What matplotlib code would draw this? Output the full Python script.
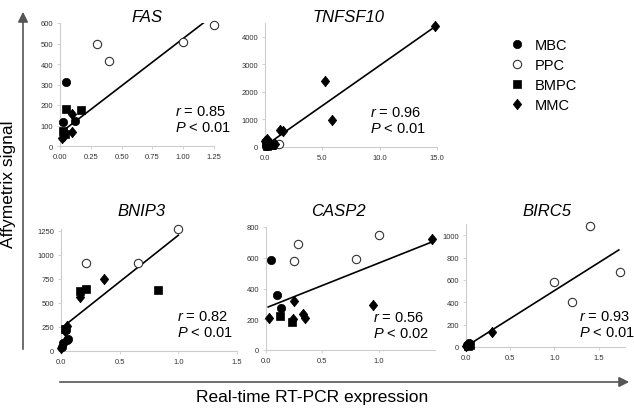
import matplotlib
matplotlib.use("Agg")
import matplotlib.pyplot as plt
from matplotlib.lines import Line2D

plt.rcParams["font.family"] = ["Liberation Sans", "DejaVu Sans"]
plt.rcParams["mathtext.fontset"] = "custom"
plt.rcParams["mathtext.it"] = "Liberation Sans:italic"
plt.rcParams["mathtext.rm"] = "Liberation Sans"

# point values: x = RT-PCR, y = Affymetrix, cell type
fas_x = [0.05, 0.025, 0.12, 0.3, 0.4, 1.0, 1.25, 0.05, 0.17, 0.025, 0.04, 0.1, 0.1, 0.015, 0.03]
fas_y = [310, 117, 122, 500, 415, 505, 590, 180, 176, 73, 58, 156, 68, 39, 50]
fas_t = ["MBC", "MBC", "MBC", "PPC", "PPC", "PPC", "PPC", "BMPC", "BMPC", "BMPC", "BMPC",
         "MMC", "MMC", "MMC", "MMC"]

tnf_x = [0.1, 0.8, 0.4, 1.2, 0.2, 0.5, 0.05, 14.8, 5.2, 5.8, 1.3, 1.6, 0.2, 0.45, 0.0, 0.9]
tnf_y = [40, 60, 100, 110, 30, 80, 150, 4380, 2380, 970, 600, 570, 290, 130, 200, 110]
tnf_t = ["MBC", "MBC", "MBC", "PPC", "BMPC", "BMPC", "BMPC", "MMC", "MMC", "MMC", "MMC",
         "MMC", "MMC", "MMC", "MMC", "MMC"]

bnip_x = [0.04, 0.05, 0.02, 0.01, 0.06, 0.21, 0.66, 1.0, 0.83, 0.21, 0.16, 0.03,
          0.37, 0.16, 0.05, 0.035, 0.0]
bnip_y = [220, 110, 80, 40, 120, 915, 920, 1265, 630, 645, 620, 230, 750, 565, 265, 210, 30]
bnip_t = ["MBC", "MBC", "MBC", "MBC", "MBC", "PPC", "PPC", "PPC", "BMPC", "BMPC", "BMPC",
          "BMPC", "MMC", "MMC", "MMC", "MMC", "MMC"]

casp_x = [0.04, 0.1, 0.13, 0.28, 0.25, 0.8, 1.0, 0.12, 0.23, 0.03, 0.25, 0.24, 0.33, 0.35,
          0.95, 1.47]
casp_y = [585, 355, 273, 690, 580, 590, 745, 222, 185, 210, 320, 200, 234, 208, 295, 722]
casp_t = ["MBC", "MBC", "MBC", "PPC", "PPC", "PPC", "PPC", "BMPC", "BMPC", "MMC", "MMC",
          "MMC", "MMC", "MMC", "MMC", "MMC"]

birc_x = [0.01, 0.03, 1.0, 1.2, 1.4, 1.74, 0.02, 0.04, 0.29, 0.0, 0.02]
birc_y = [20, 35, 580, 405, 1080, 675, 10, 15, 135, 5, 30]
birc_t = ["MBC", "MBC", "PPC", "PPC", "PPC", "PPC", "BMPC", "BMPC", "MMC", "MMC", "MMC"]

# trend line end points
fas_fit = ([0.02, 1.25], [72, 640])
tnf_fit = ([0.0, 14.8], [40, 4360])
bnip_fit = ([0.02, 1.0], [255, 1205])
casp_fit = ([0.02, 1.47], [280, 702])
birc_fit = ([0.0, 1.73], [5, 868])

genes = ["FAS", "TNFSF10", "BNIP3", "CASP2", "BIRC5"]
r_text = ["0.85", "0.96", "0.82", "0.56", "0.93"]
p_text = ["0.01", "0.01", "0.01", "0.02", "0.01"]
cell_types = ["MBC", "PPC", "BMPC", "MMC"]

DIAMOND = [(0, 1), (0.8, 0), (0, -1), (-0.8, 0), (0, 1)]
STYLE = {
    "MBC": dict(marker="o", ms=6.0, mfc="black", mec="black", mew=0.5),
    "PPC": dict(marker="o", ms=6.0, mfc="white", mec="#333333", mew=0.8),
    "BMPC": dict(marker="s", ms=5.8, mfc="black", mec="black", mew=0.5),
    "MMC": dict(marker=DIAMOND, ms=7.6, mfc="black", mec="black", mew=0.5),
}

W, H = 634, 410


def px_rect(left, right, top, bottom):
    return [left / W, 1 - bottom / H, (right - left) / W, (bottom - top) / H]


panels = [
    (fas_x, fas_y, fas_t, fas_fit, px_rect(60, 214, 24, 147), (0, 1.25), (0, 600),
     [0, 0.25, 0.5, 0.75, 1.0, 1.25], [0, 100, 200, 300, 400, 500, 600], "%.2f",
     (147, 18), (175, 112)),
    (tnf_x, tnf_y, tnf_t, tnf_fit, px_rect(265, 437, 24, 148), (0, 15), (0, 4500),
     [0, 5, 10, 15], [0, 1000, 2000, 3000, 4000], "%.1f",
     (348, 17), (370, 113)),
    (bnip_x, bnip_y, bnip_t, bnip_fit, px_rect(61, 237, 230, 352), (0, 1.5), (0, 1270),
     [0, 0.5, 1.0, 1.5], [0, 250, 500, 750, 1000, 1250], "%.1f",
     (142, 212), (177, 317)),
    (casp_x, casp_y, casp_t, casp_fit, px_rect(266, 435, 228, 351), (0, 1.5), (0, 800),
     [0, 0.5, 1.0], [0, 200, 400, 600, 800], "%.1f",
     (338, 212), (373, 318)),
    (birc_x, birc_y, birc_t, birc_fit, px_rect(466, 625, 225, 348), (0, 1.8), (0, 1100),
     [0, 0.5, 1.0, 1.5], [0, 200, 400, 600, 800, 1000], "%.1f",
     (547, 212), (579, 317)),
]

fig = plt.figure(figsize=(W / 100, H / 100), dpi=100)

for i, (xs, ys, ts, fit, rect, xl, yl, xt, yt, fmt, tpos, rpos) in enumerate(panels):
    ax = fig.add_axes(rect)
    ax.plot(fit[0], fit[1], color="black", lw=1.2, zorder=2)
    for ct in cell_types:
        px = [x for x, t in zip(xs, ts) if t == ct]
        py = [y for y, t in zip(ys, ts) if t == ct]
        ax.plot(px, py, ls="none", zorder=3, clip_on=False, **STYLE[ct])
    ax.set_xlim(*xl)
    ax.set_ylim(*yl)
    ax.set_xticks(xt)
    ax.set_yticks(yt)
    ax.set_xticklabels([fmt % v for v in xt])
    ax.tick_params(labelsize=5.5, labelcolor="#333333", color="#cccccc",
                   length=2, width=0.6, pad=3)
    for s in ["top", "right"]:
        ax.spines[s].set_visible(False)
    for s in ["left", "bottom"]:
        ax.spines[s].set_color("#cccccc")
        ax.spines[s].set_linewidth(0.8)
    fig.text(tpos[0] / W, 1 - tpos[1] / H, genes[i], fontsize=12, style="italic",
             ha="center", va="center")
    fig.text(rpos[0] / W, 1 - rpos[1] / H, "$r$ = " + r_text[i], fontsize=10.5,
             ha="left", va="center")
    fig.text(rpos[0] / W, 1 - (rpos[1] + 16) / H, "$P$ < " + p_text[i], fontsize=10.5,
             ha="left", va="center")

# legend
handles = [Line2D([], [], ls="none", **STYLE[ct]) for ct in cell_types]
fig.legend(handles, cell_types, loc="upper left", bbox_to_anchor=(495 / W, 1 - 26 / H),
           frameon=False, fontsize=10.5, handletextpad=0.6, labelspacing=0.42,
           handlelength=1.2)

# big axis arrows
fig.add_artist(matplotlib.patches.FancyArrowPatch(
    (23 / W, 1 - 353 / H), (23 / W, 1 - 10 / H), transform=fig.transFigure,
    arrowstyle="-|>,head_length=4,head_width=2", color="#555555", lw=1.2,
    mutation_scale=1.5))
fig.add_artist(matplotlib.patches.FancyArrowPatch(
    (57 / W, 1 - 383 / H), (632 / W, 1 - 383 / H), transform=fig.transFigure,
    arrowstyle="-|>,head_length=4,head_width=2", color="#555555", lw=1.2,
    mutation_scale=1.5))
fig.text(9 / W, 1 - 184 / H, "Affymetrix signal", rotation=90, fontsize=12.5,
         ha="center", va="center")
fig.text(312 / W, 1 - 398 / H, "Real-time RT-PCR expression", fontsize=12.5,
         ha="center", va="center")

fig.savefig("out.png", dpi=100)
